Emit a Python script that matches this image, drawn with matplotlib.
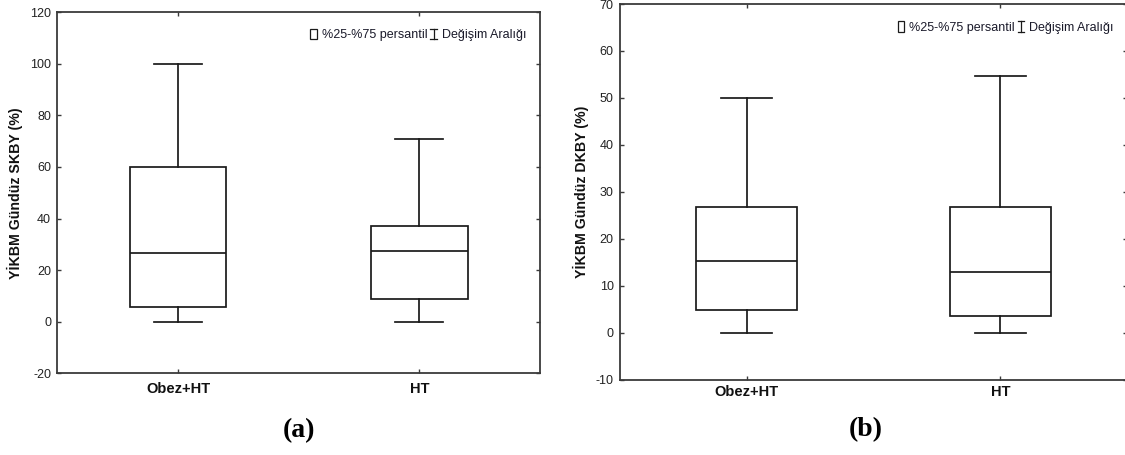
import matplotlib
matplotlib.use("Agg")
import matplotlib.pyplot as plt
from matplotlib.legend_handler import HandlerBase
from matplotlib.lines import Line2D
from matplotlib.patches import Rectangle

# ---- data -------------------------------------------------------------
groups = ["Obez+HT", "HT"]

# (a) YİKBM Gündüz SKBY (%)
a_min = [0.0, 0.0]
a_q1 = [5.8, 8.8]
a_med = [26.5, 27.6]
a_q3 = [60.0, 37.0]
a_max = [100.0, 71.0]

# (b) YİKBM Gündüz DKBY (%)
b_min = [0.0, 0.0]
b_q1 = [4.9, 3.5]
b_med = [15.3, 12.8]
b_q3 = [26.7, 26.8]
b_max = [50.0, 54.6]

a_yticks = [-20, 0, 20, 40, 60, 80, 100, 120]
b_yticks = [-10, 0, 10, 20, 30, 40, 50, 60, 70]

LINE = "#1a1a1a"
SPINE = "#3a3a3a"
TXT = "#222222"

plt.rcParams["font.family"] = ["Liberation Sans", "DejaVu Sans"]


class IBar:
    """Placeholder handle for the range (min-max) legend entry."""


class IBarHandler(HandlerBase):
    def create_artists(self, legend, orig_handle, xdescent, ydescent,
                       width, height, fontsize, trans):
        cx = -xdescent + width / 2
        y0 = -ydescent
        y1 = y0 + height
        hw = width / 2
        segs = [Line2D([cx, cx], [y0, y1]),
                Line2D([cx - hw, cx + hw], [y0, y0]),
                Line2D([cx - hw, cx + hw], [y1, y1])]
        for s in segs:
            s.set_color(LINE)
            s.set_linewidth(0.9)
            s.set_transform(trans)
        return segs


def draw_panel(ax, lo, q1, med, q3, hi, yticks, ylabel, xpad, leg_anchor, ylab_x):
    stats = [dict(whislo=lo[i], q1=q1[i], med=med[i], q3=q3[i], whishi=hi[i],
                  label=groups[i]) for i in range(len(groups))]
    lw = 1.25
    ax.bxp(stats, positions=[1, 2], widths=0.4, capwidths=0.2,
           showfliers=False, patch_artist=True,
           boxprops=dict(facecolor="white", edgecolor=LINE, linewidth=lw),
           medianprops=dict(color=LINE, linewidth=lw),
           whiskerprops=dict(color=LINE, linewidth=lw),
           capprops=dict(color=LINE, linewidth=lw))
    ax.set_xlim(0.5, 2.5)
    ax.set_ylim(yticks[0], yticks[-1])
    ax.set_yticks(yticks)
    ax.set_yticklabels([str(t) for t in yticks])
    ax.set_xticks([1, 2])
    ax.set_xticklabels(groups, fontsize=10.5, fontweight="bold", color="#111111")
    ax.tick_params(axis="both", direction="in", length=3, width=1.0,
                   color=SPINE, top=True, right=True)
    ax.tick_params(axis="y", labelsize=9, labelcolor=TXT, pad=4.5)
    ax.tick_params(axis="x", pad=xpad)
    for sp in ax.spines.values():
        sp.set_color(SPINE)
        sp.set_linewidth(1.3)
    ax.set_ylabel(ylabel, fontsize=10.2, fontweight="bold", color="#111111")
    ax.yaxis.set_label_coords(ylab_x, 0.5)

    box_handle = Rectangle((0, 0), 1, 1, facecolor="white",
                           edgecolor=LINE, linewidth=0.9)
    ax.legend([box_handle, IBar()], ["%25-%75 persantil", "Değişim Aralığı"],
              handler_map={IBar: IBarHandler()}, ncol=2, frameon=False,
              loc="center right", bbox_to_anchor=leg_anchor, borderpad=0,
              borderaxespad=0, fontsize=9, handlelength=0.55,
              handleheight=0.9, handletextpad=0.35, columnspacing=0.25,
              labelcolor="#1a1a2a")


fig = plt.figure(figsize=(11.25, 4.55), dpi=100)
ax_a = fig.add_axes([0.0509, 0.1796, 0.4291, 0.7934])
ax_b = fig.add_axes([0.5511, 0.1659, 0.4507, 0.8253])

draw_panel(ax_a, a_min, a_q1, a_med, a_q3, a_max, a_yticks,
           "YİKBM Gündüz SKBY (%)", 6, (0.971, 0.937), -0.071)
draw_panel(ax_b, b_min, b_q1, b_med, b_q3, b_max, b_yticks,
           "YİKBM Gündüz DKBY (%)", 4, (0.973, 0.937), -0.061)

fig.text(0.2655, 0.053, "(a)", ha="center", va="center", fontsize=20,
         fontweight="bold", family=["Liberation Serif", "DejaVu Serif"])
fig.text(0.770, 0.055, "(b)", ha="center", va="center", fontsize=20,
         fontweight="bold", family=["Liberation Serif", "DejaVu Serif"])

fig.savefig("out.png", dpi=100, facecolor="white")
